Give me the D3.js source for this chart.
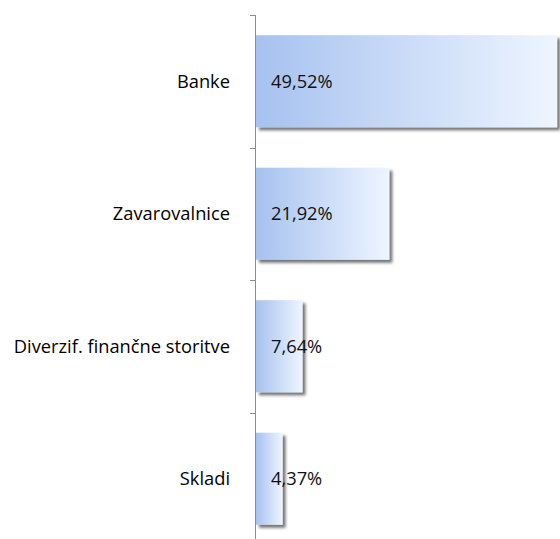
<!DOCTYPE html>
<html>
<head>
<meta charset="utf-8">
<script src="https://cdn.jsdelivr.net/npm/d3@7"></script>
<style>
  body { margin: 0; background: #fff; }
  svg { display: block; }
</style>
</head>
<body>
<div id="container"></div>
<script>
let w = 560;
let h = 539;

// data
let categories = ["Banke", "Zavarovalnice", "Diverzif. finančne storitve", "Skladi"];
let values = [49.52, 21.92, 7.64, 4.37];
let valueLabels = ["49,52%", "21,92%", "7,64%", "4,37%"];

let axisX = 256;
let plotTop = 15;
let bandH = 132.5;

let viz = d3.select("#container").append("svg")
    .attr("width", w)
    .attr("height", h);

let defs = viz.append("defs");
let grad = defs.append("linearGradient").attr("id", "barGrad")
    .attr("x1", "0%").attr("x2", "100%").attr("y1", "0%").attr("y2", "0%");
grad.append("stop").attr("offset", "0%").attr("stop-color", "#a7c2f0");
grad.append("stop").attr("offset", "100%").attr("stop-color", "#eef5ff");

let shadow = defs.append("filter").attr("id", "shadow")
    .attr("x", "-10%").attr("y", "-10%").attr("width", "130%").attr("height", "130%");
shadow.append("feGaussianBlur").attr("in", "SourceAlpha").attr("stdDeviation", 1.8);
shadow.append("feOffset").attr("dx", 3).attr("dy", 3).attr("result", "off");
shadow.append("feComponentTransfer").append("feFuncA").attr("type", "linear").attr("slope", 0.55);
let merge = shadow.append("feMerge");
merge.append("feMergeNode");
merge.append("feMergeNode").attr("in", "SourceGraphic");

let xScale = d3.scaleLinear().domain([0, 50]).range([axisX, 560]);
let yScale = d3.scaleBand().domain(categories)
    .range([plotTop, plotTop + bandH * categories.length])
    .paddingInner(0.305).paddingOuter(0.1525);

let data = categories.map((c, i) => ({cat: c, v: values[i], lab: valueLabels[i]}));

viz.selectAll(".bar").data(data).enter().append("rect")
    .attr("class", "bar")
    .attr("x", xScale(0))
    .attr("y", d => yScale(d.cat))
    .attr("width", d => xScale(d.v) - xScale(0))
    .attr("height", yScale.bandwidth())
    .attr("fill", "url(#barGrad)")
    .attr("filter", "url(#shadow)");

// axis with ticks between categories
let axisG = viz.append("g").attr("stroke", "#8c8c8c").attr("stroke-width", 1);
axisG.append("line")
    .attr("x1", axisX - 0.5).attr("x2", axisX - 0.5)
    .attr("y1", plotTop).attr("y2", plotTop + bandH * categories.length);
d3.range(categories.length + 1).forEach(i => {
  let y = Math.round(plotTop + bandH * i) + 0.5;
  axisG.append("line")
    .attr("x1", axisX - 6).attr("x2", axisX - 0.5)
    .attr("y1", y).attr("y2", y);
});

viz.selectAll(".cat").data(data).enter().append("text")
    .attr("class", "cat")
    .attr("x", 230)
    .attr("y", d => yScale(d.cat) + yScale.bandwidth() / 2)
    .attr("dy", "0.35em")
    .attr("text-anchor", "end")
    .attr("font-family", "'Open Sans', sans-serif")
    .attr("font-size", 18.3)
    .attr("fill", "#000")
    .text(d => d.cat);

viz.selectAll(".val").data(data).enter().append("text")
    .attr("class", "val")
    .attr("x", 271)
    .attr("y", d => yScale(d.cat) + yScale.bandwidth() / 2)
    .attr("dy", "0.35em")
    .attr("font-family", "'Open Sans', sans-serif")
    .attr("font-size", 18.3)
    .attr("fill", "#111")
    .text(d => d.lab);
</script>
</body>
</html>
